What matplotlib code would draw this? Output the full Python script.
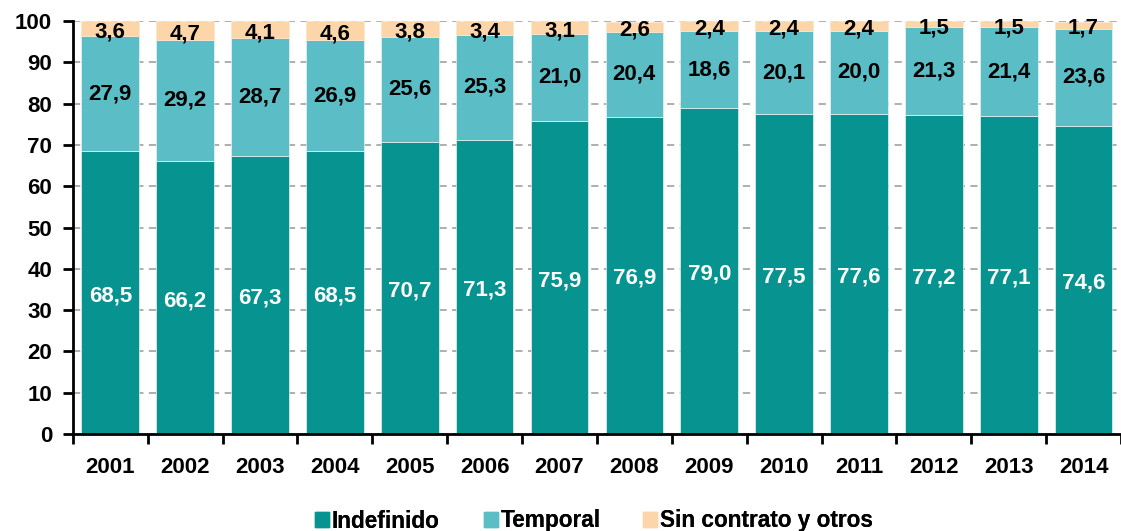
import matplotlib
matplotlib.use("Agg")
import matplotlib.pyplot as plt
import numpy as np
from matplotlib.patches import Patch

plt.rcParams["font.family"] = ["Liberation Sans", "DejaVu Sans"]
plt.rcParams["font.weight"] = "bold"

years = ["2001", "2002", "2003", "2004", "2005", "2006", "2007",
         "2008", "2009", "2010", "2011", "2012", "2013", "2014"]
indefinido = [68.5, 66.2, 67.3, 68.5, 70.7, 71.3, 75.9, 76.9, 79.0, 77.5, 77.6, 77.2, 77.1, 74.6]
temporal = [27.9, 29.2, 28.7, 26.9, 25.6, 25.3, 21.0, 20.4, 18.6, 20.1, 20.0, 21.3, 21.4, 23.6]
sin_contrato = [3.6, 4.7, 4.1, 4.6, 3.8, 3.4, 3.1, 2.6, 2.4, 2.4, 2.4, 1.5, 1.5, 1.7]

C_IND, C_TEM, C_SIN = "#079390", "#5bbec6", "#fcd5a8"
FS = 16

fig = plt.figure(figsize=(11.21, 5.31), dpi=100)
ax = fig.add_axes([0.065, 0.183, 0.935, 0.777])

x = np.arange(len(years))
w = 0.77
ind = np.array(indefinido)
tem = np.array(temporal)
sin = np.array(sin_contrato)

ax.bar(x, ind, w, color=C_IND, edgecolor="#e8f4f4", linewidth=0.5, zorder=2)
ax.bar(x, tem, w, bottom=ind, color=C_TEM, edgecolor="#e8f4f4", linewidth=0.5, zorder=2)
ax.bar(x, sin, w, bottom=ind + tem, color=C_SIN, edgecolor="#fbe6cc", linewidth=0.5, zorder=2)

fmt = lambda v: f"{v:.1f}".replace(".", ",")
for i in range(len(years)):
    ax.text(x[i], ind[i] / 2 - 0.8, fmt(ind[i]), ha="center", va="center",
            color="white", fontsize=FS, fontweight="bold", zorder=3)
    ax.text(x[i], ind[i] + tem[i] / 2, fmt(tem[i]), ha="center", va="center",
            color="black", fontsize=FS, fontweight="bold", zorder=3)
    ax.text(x[i], 100 - sin[i] / 2 - 0.8, fmt(sin[i]), ha="center", va="center",
            color="black", fontsize=FS, fontweight="bold", zorder=3)

ax.set_ylim(0, 100)
ax.set_xlim(-0.5, 13.38)
ax.set_yticks(np.arange(0, 101, 10))
ax.yaxis.grid(True, color="#a8a8a8", linestyle=(0, (4, 3)), linewidth=1.3, zorder=0)
ax.set_axisbelow(True)

ax.set_xticks(x)
ax.set_xticklabels(years)
ax.set_xticks(np.arange(-0.5, 14, 1), minor=True)
ax.tick_params(axis="x", which="major", length=0, pad=17, labelsize=FS)
ax.tick_params(axis="x", which="minor", length=7, width=2, direction="out")
ax.tick_params(axis="y", length=7, width=2, labelsize=FS, pad=8)
for lab in ax.get_xticklabels() + ax.get_yticklabels():
    lab.set_fontweight("bold")

ax.spines[["top", "right"]].set_visible(False)
ax.spines["left"].set_linewidth(2)
ax.spines["bottom"].set_linewidth(2)

# legend entries placed one by one (uneven spacing as in the original)
entries = [(C_IND, "Indefinido", 315), (C_TEM, "Temporal", 484),
           (C_SIN, "Sin contrato y otros", 643)]
for col, lab, px in entries:
    leg = fig.legend(handles=[Patch(color=col, label=lab)], loc="center left",
                     bbox_to_anchor=(px / 1121, 1 - 521 / 531), frameon=False,
                     borderpad=0, borderaxespad=0, handlelength=0.6, handleheight=0.6,
                     handletextpad=0.15, prop={"size": 16.3, "weight": "bold"})
    fig.add_artist(leg)

fig.savefig("out.png", dpi=100)
